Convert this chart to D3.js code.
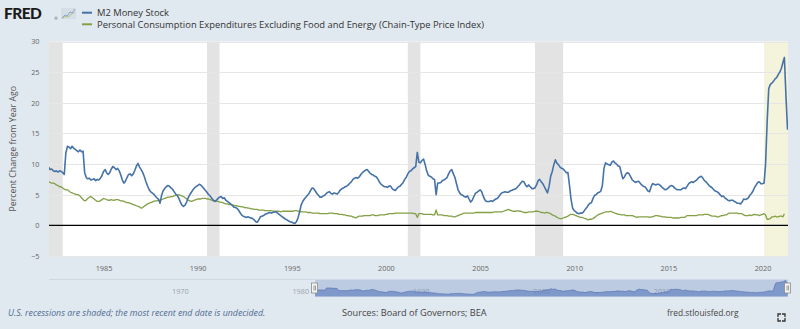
<!DOCTYPE html>
<html>
<head>
<meta charset="utf-8">
<script src="https://cdn.jsdelivr.net/npm/d3@7/dist/d3.min.js"></script>
<style>
  html, body { margin: 0; padding: 0; background: #e1e9f0; }
  svg { display: block; font-family: "Open Sans", sans-serif; }
</style>
</head>
<body>
<svg id="chart" width="800" height="329"></svg>
<script>
// ---- Data -------------------------------------------------------------
const seriesNames = [
  "M2 Money Stock",
  "Personal Consumption Expenditures Excluding Food and Energy (Chain-Type Price Index)"
];

// M2, percent change from year ago, monthly from Feb 1982
const m2Start = "1982-02-01";
const m2Values = [
  9.5, 9.1, 9.2, 8.9, 8.8, 8.9, 8.7, 8.9, 8.8, 8.6, 8.3,
  11.8, 12.9, 12.8, 12.5, 12.9, 12.6, 12.4, 12.2, 12.0, 12.3, 12.0, 12.1,
  8.6, 7.8, 7.6, 7.7, 7.4, 7.5, 7.6, 7.3, 7.5, 7.4, 7.7, 8.1,
  8.8, 9.1, 8.6, 8.3, 8.6, 9.2, 9.6, 9.4, 9.1, 9.3, 8.9, 8.2,
  7.4, 6.9, 7.2, 7.8, 8.3, 8.4, 8.1, 8.4, 9.0, 9.7, 10.1, 9.5,
  9.1, 8.6, 8.0, 7.2, 6.5, 5.9, 5.5, 5.3, 5.1, 4.8, 4.5, 4.3,
  3.6, 4.9, 5.6, 6.0, 6.3, 6.5, 6.4, 6.1, 5.9, 5.5, 5.1, 4.9,
  4.4, 3.8, 3.3, 3.1, 3.3, 3.8, 4.5, 5.0, 5.4, 5.8, 6.1, 6.3,
  6.5, 6.7, 6.6, 6.3, 6.0, 5.7, 5.4, 5.0, 4.8, 4.4, 4.1, 3.9,
  4.1, 4.4, 4.6, 4.7, 4.4, 4.5, 4.1, 3.9, 3.7, 3.5, 3.3, 3.0,
  2.9, 2.8, 2.5, 2.1, 1.7, 1.5, 1.4, 1.3, 1.4, 1.3, 1.2, 1.1,
  0.9, 0.6, 0.5, 0.9, 1.4, 1.5, 1.6, 1.8, 1.9, 2.0, 2.1, 2.0,
  2.1, 2.2, 2.2, 2.0, 1.8, 1.6, 1.4, 1.2, 1.0, 0.9, 0.7, 0.6,
  0.5, 0.4, 0.3, 0.6, 1.2, 2.2, 3.3, 3.9, 4.3, 4.6, 4.9, 5.2,
  5.7, 6.1, 6.0, 5.6, 5.2, 4.9, 4.6, 4.6, 4.8, 4.9, 5.2, 5.4,
  5.5, 5.2, 5.1, 5.3, 5.2, 5.1, 5.4, 5.8, 6.0, 6.1, 6.3, 6.4,
  6.6, 6.9, 7.1, 7.5, 7.7, 7.8, 7.7, 7.9, 8.3, 8.6, 8.8, 9.0,
  9.1, 8.8, 8.5, 8.3, 8.2, 8.0, 7.9, 7.5, 7.0, 6.7, 6.5, 6.3,
  6.3, 6.2, 6.4, 6.4, 6.0, 5.8, 5.7, 6.0, 6.3, 6.4, 6.7, 7.0,
  7.5, 7.9, 8.4, 8.8, 8.9, 9.2, 9.4, 9.6, 11.9, 10.3, 10.2, 10.6,
  10.8, 9.9, 8.9, 8.2, 8.0, 7.9, 7.6, 7.5, 5.0, 6.9, 6.9, 7.0,
  7.3, 7.4, 7.6, 7.8, 8.4, 8.9, 9.1, 8.4, 7.8, 6.8, 5.8, 5.3,
  5.0, 4.9, 4.7, 4.6, 4.8, 4.3, 3.8, 4.1, 4.7, 5.2, 5.4, 5.6,
  5.8, 5.5, 4.8, 4.2, 3.9, 3.9, 3.9, 4.0, 3.9, 4.1, 4.3, 4.4,
  4.7, 5.1, 5.3, 5.4, 5.5, 5.4, 5.4, 5.6, 5.7, 5.8, 5.9, 6.0,
  6.3, 6.6, 6.9, 7.2, 7.1, 6.6, 6.3, 6.6, 6.3, 6.0, 6.0, 6.1,
  6.6, 7.3, 7.5, 7.1, 6.8, 6.3, 5.8, 5.3, 6.4, 8.0, 8.8, 9.9,
  10.7, 10.1, 9.9, 9.5, 9.3, 9.2, 8.9, 8.6, 8.6, 6.5, 4.2, 2.8,
  2.4, 2.2, 2.0, 1.9, 2.0, 2.0, 2.2, 2.6, 2.9, 3.3, 3.6, 3.7,
  4.4, 4.9, 5.0, 5.3, 5.4, 5.6, 6.5, 9.3, 10.2, 10.0, 9.9, 9.8,
  10.3, 10.5, 10.2, 10.0, 9.7, 9.6, 8.6, 7.6, 7.9, 8.4, 8.6, 8.4,
  7.9, 7.4, 7.2, 7.0, 7.1, 7.2, 6.9, 6.6, 6.4, 6.3, 6.0, 5.6,
  5.5, 6.3, 6.8, 6.7, 6.6, 6.7, 6.7, 6.5, 6.2, 6.0, 5.8, 5.9,
  6.1, 6.4, 6.5, 6.4, 6.1, 5.9, 5.8, 5.8, 5.8, 6.0, 6.1, 6.0,
  6.4, 6.8, 7.0, 7.1, 7.0, 7.2, 7.4, 7.7, 7.9, 8.0, 7.7, 7.3,
  7.1, 6.8, 6.5, 6.3, 6.1, 5.8, 5.6, 5.5, 5.3, 5.0, 4.7, 4.8,
  4.5, 4.3, 4.1, 4.0, 4.1, 4.1, 3.9, 3.8, 3.6, 3.6, 3.5, 3.8,
  4.3, 4.2, 4.3, 4.5, 4.9, 5.2, 5.6, 6.2, 6.6, 7.0, 7.1, 6.8,
  6.8, 6.9, 10.0, 17.0, 22.3, 23.0, 23.2, 23.5, 23.9, 24.1, 24.6, 25.0,
  25.6, 26.6, 27.4, 21.0, 15.6
];

// Core PCE price index, percent change from year ago, monthly from Feb 1982
const pceStart = "1982-02-01";
const pceValues = [
  7.1, 7.0, 6.9, 6.9, 6.8, 6.6, 6.5, 6.3, 6.3, 6.1, 5.9,
  5.8, 5.8, 5.6, 5.4, 5.3, 5.2, 5.1, 5.0, 5.0, 4.8, 4.5, 4.2,
  4.0, 4.1, 4.4, 4.6, 4.7, 4.5, 4.3, 4.1, 3.9, 3.9, 4.0, 4.2,
  4.4, 4.3, 4.2, 4.1, 4.1, 4.2, 4.1, 4.1, 4.2, 4.2, 4.1, 4.0,
  4.0, 3.9, 3.8, 3.7, 3.7, 3.6, 3.5, 3.4, 3.3, 3.2, 3.1, 3.0,
  2.8, 2.9, 3.1, 3.3, 3.5, 3.6, 3.7, 3.8, 3.9, 4.0, 4.0, 4.1,
  4.1, 4.2, 4.3, 4.4, 4.5, 4.6, 4.6, 4.7, 4.7, 4.8, 4.9, 4.9,
  5.0, 4.9, 4.8, 4.7, 4.5, 4.3, 4.1, 4.0, 3.9, 4.0, 4.1, 4.2,
  4.3, 4.3, 4.3, 4.4, 4.4, 4.4, 4.3, 4.3, 4.2, 4.1, 4.0, 4.0,
  3.9, 3.9, 3.8, 3.8, 3.7, 3.6, 3.5, 3.5, 3.4, 3.4, 3.3, 3.3,
  3.2, 3.2, 3.1, 3.1, 3.0, 3.0, 2.9, 2.9, 2.8, 2.8, 2.7, 2.7,
  2.6, 2.6, 2.6, 2.5, 2.5, 2.5, 2.5, 2.4, 2.4, 2.4, 2.4, 2.4,
  2.3, 2.3, 2.3, 2.3, 2.3, 2.2, 2.3, 2.3, 2.3, 2.3, 2.3, 2.3,
  2.3, 2.3, 2.4, 2.4, 2.3, 2.3, 2.2, 2.2, 2.2, 2.2, 2.1, 2.1,
  2.1, 2.0, 2.0, 2.0, 2.0, 2.0, 1.9, 1.9, 1.9, 1.9, 1.9, 1.9,
  2.0, 2.0, 2.0, 1.9, 1.9, 1.9, 1.8, 1.8, 1.8, 1.7, 1.7, 1.6,
  1.6, 1.5, 1.5, 1.4, 1.3, 1.2, 1.4, 1.5, 1.5, 1.5, 1.6, 1.6,
  1.6, 1.6, 1.6, 1.7, 1.7, 1.6, 1.6, 1.6, 1.7, 1.7, 1.7, 1.7,
  1.8, 1.8, 1.9, 1.9, 1.9, 1.9, 2.0, 2.0, 2.0, 2.0, 2.0, 2.0,
  2.0, 2.0, 2.0, 2.0, 2.0, 2.0, 1.9, 1.9, 1.3, 1.9, 1.9, 1.9,
  1.8, 1.8, 1.8, 1.8, 1.8, 1.8, 1.7, 1.7, 2.5, 1.7, 1.7, 1.7,
  1.7, 1.6, 1.6, 1.6, 1.5, 1.5, 1.5, 1.4, 1.4, 1.5, 1.6, 1.7,
  1.8, 1.9, 2.0, 2.0, 2.0, 2.0, 2.0, 2.0, 2.0, 2.1, 2.1, 2.1,
  2.1, 2.1, 2.1, 2.1, 2.1, 2.1, 2.1, 2.1, 2.1, 2.2, 2.2, 2.2,
  2.2, 2.2, 2.2, 2.3, 2.4, 2.5, 2.6, 2.5, 2.4, 2.3, 2.3, 2.3,
  2.4, 2.3, 2.3, 2.2, 2.1, 2.1, 2.1, 2.2, 2.2, 2.2, 2.2, 2.3,
  2.3, 2.3, 2.2, 2.1, 2.1, 2.0, 2.1, 2.1, 2.0, 1.9, 1.7, 1.6,
  1.5, 1.3, 1.2, 1.1, 1.1, 1.2, 1.3, 1.4, 1.5, 1.7, 1.8, 1.8,
  1.7, 1.6, 1.5, 1.4, 1.3, 1.3, 1.2, 1.1, 1.0, 0.9, 1.0, 1.0,
  1.1, 1.3, 1.5, 1.7, 1.8, 1.9, 2.0, 2.1, 2.2, 2.2, 2.2, 2.3,
  2.2, 2.1, 2.0, 1.9, 1.8, 1.8, 1.7, 1.7, 1.7, 1.6, 1.6, 1.6,
  1.6, 1.6, 1.5, 1.4, 1.3, 1.4, 1.4, 1.4, 1.4, 1.4, 1.4, 1.4,
  1.3, 1.4, 1.4, 1.5, 1.6, 1.6, 1.5, 1.5, 1.4, 1.4, 1.4, 1.3,
  1.3, 1.3, 1.3, 1.2, 1.2, 1.2, 1.2, 1.2, 1.3, 1.3, 1.3, 1.4,
  1.6, 1.6, 1.6, 1.6, 1.6, 1.6, 1.6, 1.7, 1.7, 1.7, 1.7, 1.8,
  1.8, 1.8, 1.7, 1.6, 1.5, 1.5, 1.5, 1.4, 1.4, 1.5, 1.6, 1.6,
  1.7, 1.7, 1.9, 2.0, 2.0, 2.0, 2.0, 2.0, 2.0, 1.9, 1.9, 1.9,
  1.7, 1.6, 1.6, 1.6, 1.7, 1.6, 1.7, 1.8, 1.7, 1.7, 1.6, 1.7,
  1.8, 1.9, 1.7, 1.0, 1.0, 1.1, 1.4, 1.4, 1.5, 1.4, 1.4, 1.5,
  1.5, 1.4, 1.9
];

// NBER recessions (start, end)
const recessions = [
  ["1981-07-01", "1982-11-01"],
  ["1990-07-01", "1991-03-01"],
  ["2001-03-01", "2001-11-01"],
  ["2007-12-01", "2009-06-01"]
];
// Latest recession, end date not yet set
const openRecessionStart = "2020-02-01";

const yTicks = [-5, 0, 5, 10, 15, 20, 25, 30];
const xTickYears = [1985, 1990, 1995, 2000, 2005, 2010, 2015, 2020];
const navTickYears = [1970, 1980, 1990, 2000, 2010];
const viewRange = ["1982-02-08", "2021-05-10"];
const navRange = ["1960-01-01", "2021-05-10"];

// ---- Setup ------------------------------------------------------------
const parse = d3.timeParse("%Y-%m-%d");
const plot = { left: 49, right: 788, top: 41.5, bottom: 256 };
const colors = { m2: "#4572a7", pce: "#83a046" };

const svg = d3.select("#chart");

const toSeries = (start, values) =>
  values.map((v, i) => ({ date: d3.timeMonth.offset(parse(start), i), value: v }));
const m2 = toSeries(m2Start, m2Values);
const pce = toSeries(pceStart, pceValues);

const x = d3.scaleTime()
  .domain(viewRange.map(parse))
  .range([plot.left, plot.right]);
const y = d3.scaleLinear()
  .domain([-5, 30])
  .range([plot.bottom, plot.top]);

// ---- Plot area ----------------------------------------------------------
svg.append("rect")
  .attr("x", plot.left).attr("y", plot.top)
  .attr("width", plot.right - plot.left)
  .attr("height", plot.bottom - plot.top)
  .attr("fill", "#ffffff");

svg.append("clipPath").attr("id", "plotClip")
  .append("rect")
  .attr("x", plot.left).attr("y", plot.top - 2)
  .attr("width", plot.right - plot.left)
  .attr("height", plot.bottom - plot.top + 4);

// recession shading
const shade = svg.append("g").attr("clip-path", "url(#plotClip)");
shade.selectAll("rect.rec")
  .data(recessions)
  .join("rect")
  .attr("class", "rec")
  .attr("x", d => x(parse(d[0])))
  .attr("width", d => x(parse(d[1])) - x(parse(d[0])))
  .attr("y", plot.top)
  .attr("height", plot.bottom - plot.top)
  .attr("fill", "#e3e3e3");
shade.append("rect")
  .attr("x", x(parse(openRecessionStart)))
  .attr("width", plot.right - x(parse(openRecessionStart)))
  .attr("y", plot.top)
  .attr("height", plot.bottom - plot.top)
  .attr("fill", "#f4f4dc");

// horizontal grid
svg.append("g")
  .selectAll("line")
  .data(yTicks.filter(t => t !== 0))
  .join("line")
  .attr("x1", plot.left).attr("x2", plot.right)
  .attr("y1", d => Math.round(y(d)) + 0.5)
  .attr("y2", d => Math.round(y(d)) + 0.5)
  .attr("stroke", "#e6e6e6")
  .attr("stroke-width", 1);

// y axis labels
const yAxis = d3.axisLeft(y).tickValues(yTicks).tickSize(0).tickPadding(0);
const yg = svg.append("g")
  .attr("transform", `translate(${plot.left - 9.5},0)`)
  .call(yAxis);
yg.select(".domain").remove();
yg.selectAll("text")
  .attr("font-family", "Open Sans, sans-serif")
  .attr("font-size", 7.3)
  .attr("fill", "#666");

// x axis labels
const xAxis = d3.axisBottom(x)
  .tickValues(xTickYears.map(yr => new Date(yr, 0, 1)))
  .tickFormat(d3.timeFormat("%Y"))
  .tickSize(0).tickPadding(0);
const xg = svg.append("g")
  .attr("transform", `translate(0,${plot.bottom + 9.5})`)
  .call(xAxis);
xg.select(".domain").remove();
xg.selectAll("text")
  .attr("font-family", "Open Sans, sans-serif")
  .attr("font-size", 7.3)
  .attr("fill", "#666");

// y axis title
svg.append("text")
  .attr("transform", `translate(16,${(plot.top + plot.bottom) / 2}) rotate(-90)`)
  .attr("text-anchor", "middle")
  .attr("font-size", 8.8)
  .attr("fill", "#555")
  .text("Percent Change from Year Ago");

// lines
const line = d3.line()
  .x(d => x(d.date))
  .y(d => y(d.value));

// zero line
svg.append("line")
  .attr("x1", plot.left).attr("x2", plot.right)
  .attr("y1", y(0)).attr("y2", y(0))
  .attr("stroke", "#000")
  .attr("stroke-width", 1.4);

const lines = svg.append("g").attr("clip-path", "url(#plotClip)");
lines.append("path")
  .datum(pce)
  .attr("d", line)
  .attr("fill", "none")
  .attr("stroke", colors.pce)
  .attr("stroke-width", 1.3)
  .attr("stroke-linejoin", "round");
lines.append("path")
  .datum(m2)
  .attr("d", line)
  .attr("fill", "none")
  .attr("stroke", colors.m2)
  .attr("stroke-width", 1.6)
  .attr("stroke-linejoin", "round");

// ---- Header: logo and legend -----------------------------------------
const logo = svg.append("g");
logo.append("text")
  .attr("x", 4).attr("y", 19.2)
  .attr("font-family", "Lato, 'Open Sans', sans-serif")
  .attr("font-weight", 900)
  .attr("font-size", 15.5)
  .attr("letter-spacing", -0.6)
  .attr("fill", "#1a1a1a")
  .text("FRED");
logo.append("text")
  .attr("x", 54.5).attr("y", 19.5)
  .attr("font-size", 3.5)
  .attr("fill", "#333")
  .text("®");
// small chart icon next to the wordmark
const icon = logo.append("g").attr("transform", "translate(61,8)");
icon.append("rect").attr("width", 15).attr("height", 11).attr("fill", "#d5dde6");
icon.append("path")
  .attr("d", "M1,10 L4,7 L6,8 L9,4 L11,5 L14,1")
  .attr("fill", "none").attr("stroke", "#7f9fcf").attr("stroke-width", 0.9);
icon.append("path")
  .attr("d", "M1,10.5 L4,8.5 L7,9 L10,6.5 L14,4")
  .attr("fill", "none").attr("stroke", "#a8bf7c").attr("stroke-width", 0.9);

const legend = svg.append("g");
const legendRows = [
  { name: seriesNames[0], color: colors.m2, y: 12.7 },
  { name: seriesNames[1], color: colors.pce, y: 24.3 }
];
legendRows.forEach(r => {
  legend.append("line")
    .attr("x1", 82).attr("x2", 92)
    .attr("y1", r.y).attr("y2", r.y)
    .attr("stroke", r.color).attr("stroke-width", 2);
  legend.append("text")
    .attr("x", 97).attr("y", r.y + 3.2)
    .attr("font-size", 9.4)
    .attr("fill", "#333")
    .text(r.name);
});

// ---- Navigator ---------------------------------------------------------
const nav = { top: 279.5, bottom: 296.5 };
const xNav = d3.scaleTime()
  .domain(navRange.map(parse))
  .range([plot.left, plot.right]);
const yNav = d3.scaleLinear()
  .domain([-3.8, 29.5])
  .range([nav.bottom, nav.top]);

// navigator axis labels
svg.append("g")
  .selectAll("text")
  .data(navTickYears)
  .join("text")
  .attr("x", d => xNav(new Date(d, 0, 1)) + 2.5)
  .attr("y", 294)
  .attr("font-size", 7.3)
  .attr("fill", "#9aa3ad")
  .text(d => d);

const selX0 = xNav(parse(viewRange[0]));
const selX1 = xNav(parse(viewRange[1]));

// selected range
svg.append("rect")
  .attr("x", selX0).attr("y", nav.top)
  .attr("width", selX1 - selX0)
  .attr("height", nav.bottom - nav.top)
  .attr("fill", "#6685c2")
  .attr("fill-opacity", 0.3);

// navigator series
const area = d3.area()
  .x(d => xNav(d.date))
  .y0(nav.bottom)
  .y1(d => yNav(d.value));
svg.append("path")
  .datum(m2)
  .attr("d", area)
  .attr("fill", "#6685c2")
  .attr("fill-opacity", 0.7);
svg.append("path")
  .datum(m2)
  .attr("d", d3.line().x(d => xNav(d.date)).y(d => yNav(d.value)))
  .attr("fill", "none")
  .attr("stroke", "#5a7ab3")
  .attr("stroke-width", 0.8);

// outline along the top of the navigator
svg.append("path")
  .attr("d", `M${plot.left},${nav.top}H${selX0}M${selX1},${nav.top}H${plot.right}`)
  .attr("stroke", "#cfd8e2").attr("stroke-width", 1).attr("fill", "none");

// handles
[selX0, selX1].forEach(hx => {
  const g = svg.append("g").attr("transform", `translate(${Math.round(hx) - 0.5},${nav.top + 3.5})`);
  g.append("rect")
    .attr("x", -3).attr("y", 0).attr("width", 6).attr("height", 10)
    .attr("fill", "#f4f4f4").attr("stroke", "#8a8a8a").attr("stroke-width", 0.8);
  g.append("line")
    .attr("x1", -0.5).attr("x2", -0.5).attr("y1", 2.5).attr("y2", 7.5)
    .attr("stroke", "#777").attr("stroke-width", 0.7);
  g.append("line")
    .attr("x1", 1).attr("x2", 1).attr("y1", 2.5).attr("y2", 7.5)
    .attr("stroke", "#777").attr("stroke-width", 0.7);
});

// ---- Footer ------------------------------------------------------------
svg.append("text")
  .attr("x", 8).attr("y", 316)
  .attr("font-size", 8.8)
  .attr("font-style", "italic")
  .attr("fill", "#4f6a90")
  .text("U.S. recessions are shaded; the most recent end date is undecided.");
svg.append("text")
  .attr("x", 342).attr("y", 316)
  .attr("font-size", 9.2)
  .attr("fill", "#444")
  .text("Sources: Board of Governors; BEA");
svg.append("text")
  .attr("x", 667).attr("y", 316)
  .attr("font-size", 8.4)
  .attr("fill", "#444")
  .text("fred.stlouisfed.org");

// full-screen glyph
svg.append("path")
  .attr("d", "M778,317V314H781 M782,314H785V317 M785,318V321H782 M781,321H778V318")
  .attr("fill", "none")
  .attr("stroke", "#333")
  .attr("stroke-width", 1.3);
</script>
</body>
</html>
